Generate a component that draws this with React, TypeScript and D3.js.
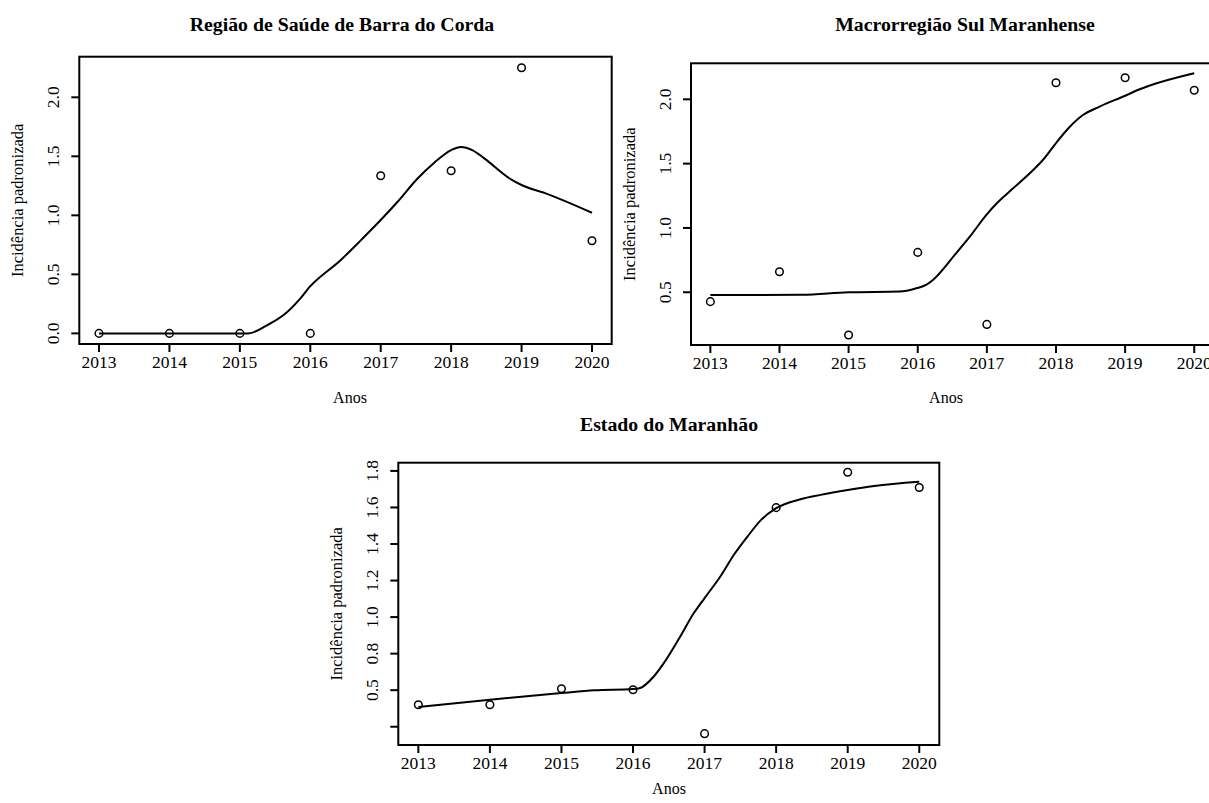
import React from "react";
import * as d3 from "d3";

const years = [2013, 2014, 2015, 2016, 2017, 2018, 2019, 2020];
const xTickLabels = ["2013", "2014", "2015", "2016", "2017", "2018", "2019", "2020"];

const barraCorda = [0, 0, 0, 0, 1.336, 1.378, 2.251, 0.785];
const sulMaranhense = [0.427, 0.66, 0.168, 0.81, 0.25, 2.129, 2.168, 2.07];
const maranhao = [0.52, 0.52, 0.608, 0.602, 0.362, 1.599, 1.793, 1.709];

const barraTrendX = [2013, 2014, 2015, 2015.12, 2015.39, 2015.62, 2015.86, 2016.0, 2016.05, 2016.43, 2016.72, 2017.0, 2017.24, 2017.52, 2017.76, 2018.0, 2018.14, 2018.3, 2018.47, 2018.85, 2019.0, 2019.37, 2020];
const barraTrendY = [0, 0, 0, 0.0, 0.07, 0.155, 0.297, 0.40, 0.43, 0.62, 0.79, 0.96, 1.115, 1.31, 1.446, 1.553, 1.58, 1.553, 1.483, 1.305, 1.257, 1.18, 1.022];

const sulTrendX = [2013, 2014.33, 2015, 2015.74, 2015.98, 2016.12, 2016.22, 2016.55, 2016.75, 2016.99, 2017.14, 2017.38, 2017.67, 2017.81, 2018.0, 2018.2, 2018.39, 2018.63, 2019, 2019.21, 2020];
const sulTrendY = [0.479, 0.48, 0.5, 0.505, 0.531, 0.557, 0.596, 0.8, 0.93, 1.1, 1.19, 1.308, 1.45, 1.528, 1.66, 1.787, 1.878, 1.943, 2.028, 2.078, 2.203];

const maTrendX = [2013, 2014, 2015, 2015.46, 2016, 2016.1, 2016.29, 2016.43, 2016.66, 2016.85, 2017, 2017.22, 2017.41, 2017.6, 2017.79, 2018, 2018.34, 2018.62, 2019, 2019.37, 2020];
const maTrendY = [0.508, 0.548, 0.584, 0.599, 0.606, 0.612, 0.675, 0.748, 0.894, 1.022, 1.104, 1.222, 1.341, 1.441, 1.532, 1.596, 1.645, 1.669, 1.696, 1.718, 1.741];

const yTicks1 = [0, 0.5, 1.0, 1.5, 2.0];
const yLabels1 = ["0.0", "0.5", "1.0", "1.5", "2.0"];
const yTicks2 = [0.5, 1.0, 1.5, 2.0];
const yLabels2 = ["0.5", "1.0", "1.5", "2.0"];
const yTicks3 = [0.4, 0.6, 0.8, 1.0, 1.2, 1.4, 1.6, 1.8];
const yLabels3 = ["", "0.5", "0.8", "1.0", "1.2", "1.4", "1.6", "1.8"];

const titles = ["Região de Saúde de Barra do Corda", "Macrorregião Sul Maranhense", "Estado do Maranhão"];
const xAxisTitle = "Anos";
const yAxisTitle = "Incidência padronizada";

const FONT = "'Liberation Serif', 'Times New Roman', serif";

type PanelProps = {
  box: [number, number, number, number];
  yDomain: [number, number];
  values: number[];
  trendX: number[];
  trendY: number[];
  yTicks: number[];
  yLabels: string[];
  title: string;
  titleX: number;
  titleY: number;
  anosX: number;
  anosY: number;
};

function Panel(p: PanelProps) {
  const [l, t, r, b] = p.box;
  const x = d3.scaleLinear().domain([2013 - 0.28, 2020 + 0.28]).range([l, r]);
  const y = d3.scaleLinear().domain(p.yDomain).range([b, t]);
  const line = d3
    .line<number>()
    .x((_, i) => x(p.trendX[i]))
    .y((d) => y(d))
    .curve(d3.curveMonotoneX);
  return (
    <g>
      <text x={p.titleX} y={p.titleY} textAnchor="middle" fontFamily={FONT} fontWeight="bold" fontSize={19.8}>
        {p.title}
      </text>
      <path d={line(p.trendY) || ""} fill="none" stroke="#000" strokeWidth={2} />
      {p.values.map((v, i) => (
        <circle key={i} cx={x(years[i])} cy={y(v)} r={3.8} fill="none" stroke="#000" strokeWidth={1.5} />
      ))}
      <rect x={l} y={t} width={r - l} height={b - t} fill="none" stroke="#000" strokeWidth={2} />
      {years.map((yr, i) => (
        <g key={yr}>
          <line x1={x(yr)} x2={x(yr)} y1={b} y2={b + 8} stroke="#000" strokeWidth={2} />
          <text x={x(yr)} y={b + 23.5} textAnchor="middle" fontFamily={FONT} fontSize={17.5}>
            {xTickLabels[i]}
          </text>
        </g>
      ))}
      {p.yTicks.map((v, i) => (
        <g key={v}>
          <line x1={l - 8} x2={l} y1={y(v)} y2={y(v)} stroke="#000" strokeWidth={2} />
          <text
            transform={`translate(${l - 26},${y(v)}) rotate(-90)`}
            textAnchor="middle"
            dominantBaseline="central"
            fontFamily={FONT}
            fontSize={17.5}
          >
            {p.yLabels[i]}
          </text>
        </g>
      ))}
      <text
        transform={`translate(${l - 62},${(t + b) / 2}) rotate(-90)`}
        textAnchor="middle"
        dominantBaseline="central"
        fontFamily={FONT}
        fontSize={16.5}
      >
        {yAxisTitle}
      </text>
      <text x={p.anosX} y={p.anosY} textAnchor="middle" fontFamily={FONT} fontSize={16}>
        {xAxisTitle}
      </text>
    </g>
  );
}

export default function App() {
  return (
    <svg
      width={1209}
      height={803}
      style={{ position: "absolute", left: 0, top: 0, background: "#fff" }}
    >
      <rect x={0} y={0} width={1209} height={803} fill="#fff" />
      <Panel
        box={[79.3, 56.7, 611.7, 344]}
        yDomain={[-0.09, 2.344]}
        values={barraCorda}
        trendX={barraTrendX}
        trendY={barraTrendY}
        yTicks={yTicks1}
        yLabels={yLabels1}
        title={titles[0]}
        titleX={342}
        titleY={31}
        anosX={350}
        anosY={403}
      />
      <Panel
        box={[691, 63.3, 1213.6, 345]}
        yDomain={[0.09, 2.28]}
        values={sulMaranhense}
        trendX={sulTrendX}
        trendY={sulTrendY}
        yTicks={yTicks2}
        yLabels={yLabels2}
        title={titles[1]}
        titleX={965}
        titleY={31}
        anosX={946}
        anosY={403}
      />
      <Panel
        box={[398.3, 462.7, 939.3, 745]}
        yDomain={[0.3, 1.845]}
        values={maranhao}
        trendX={maTrendX}
        trendY={maTrendY}
        yTicks={yTicks3}
        yLabels={yLabels3}
        title={titles[2]}
        titleX={669}
        titleY={431}
        anosX={669}
        anosY={794}
      />
    </svg>
  );
}
